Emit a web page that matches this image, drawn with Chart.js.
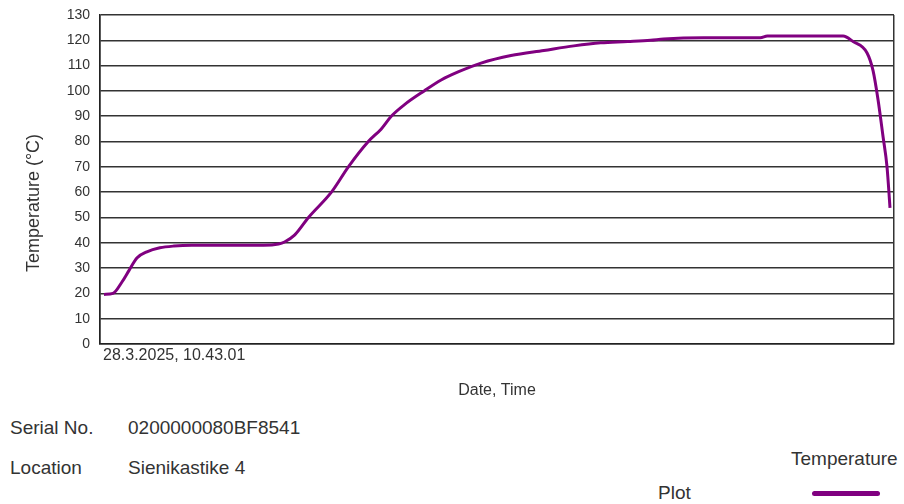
<!DOCTYPE html>
<html>
<head>
<meta charset="utf-8">
<script src="https://cdn.jsdelivr.net/npm/chart.js@4/dist/chart.umd.min.js"></script>
<style>
  body { margin: 0; background: #fff; font-family: "Liberation Sans", Arial, sans-serif; color: #333; }
  #wrap { position: relative; width: 904px; height: 504px; overflow: hidden; }
  #chart { position: absolute; left: 0; top: 0; }
  .info { position: absolute; font-size: 19px; line-height: 22px; white-space: nowrap; }
  #legend-line { position: absolute; left: 812px; top: 491px; width: 68px; height: 5px; border-radius: 3px; background: #800080; }
</style>
</head>
<body>
<div id="wrap">
  <canvas id="chart" width="904" height="400"></canvas>
  <div class="info" style="left:10px; top:417px;">Serial No.</div>
  <div class="info" style="left:128px; top:417px;">0200000080BF8541</div>
  <div class="info" style="left:10px; top:457px;">Location</div>
  <div class="info" style="left:128px; top:457px;">Sienikastike 4</div>
  <div class="info" style="left:791px; top:448px;">Temperature</div>
  <div class="info" style="left:658px; top:482px;">Plot</div>
  <div id="legend-line"></div>
</div>
<script>
// sample time, minutes after logging start
const elapsedMinutes = [0.5, 2.75, 5, 6.75, 8.75, 11.25, 14.5, 18, 22.5,
  40.5, 44.25, 45.75, 48.25, 51.75, 57.5, 61.75, 66.75, 70, 72.5, 75.75,
  80.75, 85, 89.25, 95, 102.5, 110.75, 118.25, 125, 131.75, 137.5,
  140.75, 150.75, 165, 166.75, 185.75, 188.25, 191.75, 193.25, 194.5, 195.75,
  196.75, 197.5];
// temperature readings (°C)
const temperature = [19.6, 20, 24.5, 29, 34, 36.4, 38, 38.7, 39,
  39, 39.5, 40.3, 43, 50, 60, 70, 80, 85, 90, 94.5,
  100, 104.3, 107.5, 111, 114, 116, 117.8, 119, 119.5, 120,
  120.5, 121, 121, 121.7, 121.7, 119.5, 115, 108, 96.5, 82,
  70, 53.8];
const startStamp = "28.3.2025, 10.43.01";
const xRange = [-0.5, 198.5];
const yRange = [0, 130];

const points = elapsedMinutes.map((t, i) => ({ x: t, y: temperature[i] }));

// y axis title sits a bit lower than the plot centre in the original
const yTitlePlugin = {
  id: "yTitle",
  afterDraw(chart) {
    const ctx = chart.ctx;
    ctx.save();
    ctx.translate(34, 203);
    ctx.rotate(-Math.PI / 2);
    ctx.font = '18px "Liberation Sans", Arial, sans-serif';
    ctx.fillStyle = "#333";
    ctx.textAlign = "center";
    ctx.textBaseline = "middle";
    ctx.fillText("Temperature (°C)", 0, 0);
    ctx.restore();
  },
};

new Chart(document.getElementById("chart").getContext("2d"), {
  type: "line",
  data: {
    datasets: [
      {
        label: "Temperature",
        data: points,
        borderColor: "#800080",
        borderWidth: 3,
        pointRadius: 0,
        cubicInterpolationMode: "monotone",
        fill: false,
      },
    ],
  },
  options: {
    responsive: false,
    animation: false,
    events: [],
    layout: { padding: { top: 15, right: 10, left: 0, bottom: 0 } },
    plugins: { legend: { display: false }, tooltip: { enabled: false } },
    scales: {
      x: {
        type: "linear",
        min: xRange[0],
        max: xRange[1],
        afterBuildTicks: (scale) => {
          scale.ticks = [{ value: xRange[0] }, { value: xRange[1] }];
        },
        afterFit: (scale) => {
          scale.height = 56;
          scale.paddingLeft = 0;
          scale.paddingRight = 0;
        },
        ticks: {
          align: "start",
          labelOffset: 3,
          maxRotation: 0,
          autoSkip: false,
          padding: 2,
          color: "#333",
          font: { family: "Liberation Sans", size: 16 },
          callback: (value) => (value === xRange[0] ? startStamp : ""),
        },
        grid: { color: "#333", lineWidth: 1.5, drawTicks: false },
        border: { color: "#222", width: 1.5 },
        title: {
          display: true,
          text: "Date, Time",
          color: "#333",
          font: { family: "Liberation Sans", size: 16 },
          padding: { top: 0, bottom: 0 },
        },
      },
      y: {
        min: yRange[0],
        max: yRange[1],
        afterFit: (scale) => {
          scale.width = 100;
          scale.paddingTop = 0;
          scale.paddingBottom = 0;
        },
        ticks: {
          stepSize: 10,
          padding: 10,
          color: "#333",
          font: { family: "Liberation Sans", size: 14 },
        },
        grid: { color: "#333", lineWidth: 1.5, drawTicks: false },
        border: { color: "#222", width: 1.5 },
      },
    },
  },
  plugins: [yTitlePlugin],
});
</script>
</body>
</html>
